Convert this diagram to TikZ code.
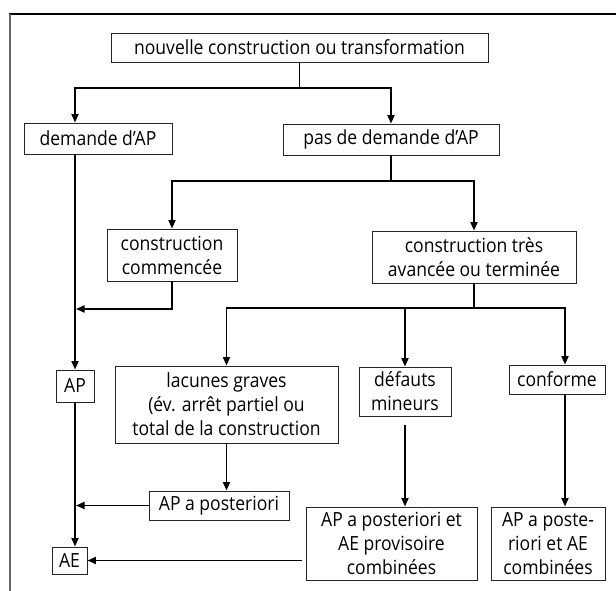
\documentclass[tikz,border=0pt]{standalone}
\usepackage{fontspec}
\setmainfont{Open Sans}[FakeStretch=0.9]
\usetikzlibrary{arrows.meta}

\begin{document}
\begin{tikzpicture}[x=1pt,y=-1pt,
    boite/.style={draw=black!85,line width=0.9pt,inner sep=0pt,align=center,
      font=\fontsize{19.5}{24}\selectfont},
    fleche/.style={line width=1.8pt,-{Triangle[length=8.5pt,width=7pt]}},
    trait/.style={line width=1.8pt}]
    \useasboundingbox (0,0) rectangle (616,591);

    % Cadre
    \draw[line width=1.4pt] (9.3,14) -- (616,14);
    \draw[black!60,line width=1.6pt] (10,14) -- (10,591);

    % Boites
    \node[boite,minimum width=377pt,minimum height=29pt] (haut) at (299.5,47.5)
        {nouvelle construction ou transformation};
    \node[boite,minimum width=148pt,minimum height=31pt] (demande) at (98,138.5)
        {demande d’AP};
    \node[boite,minimum width=216pt,minimum height=31pt] (pasdem) at (391,139.5)
        {pas de demande d’AP};
    \node[boite,minimum width=130pt,minimum height=52pt] (commencee) at (172,255)
        {construction\\commencée};
    \node[boite,minimum width=204pt,minimum height=52pt] (avancee) at (474,257)
        {construction très\\avancée ou terminée};
    \node[boite,minimum width=38pt,minimum height=32pt] (ap) at (75,386) {AP};
    \node[boite,minimum width=223pt,minimum height=77pt] (lacunes) at (226.5,404.5)
        {lacunes graves\\(év. arrêt partiel ou\\total de la construction};
    \node[boite,minimum width=92pt,minimum height=49pt] (defauts) at (405,391.5)
        {défauts\\mineurs};
    \node[boite,minimum width=96pt,minimum height=29pt] (conforme) at (557,379.5)
        {conforme};
    \node[boite,minimum width=140pt,minimum height=29pt] (apap) at (219,505.5)
        {AP a posteriori};
    \node[boite,minimum width=171pt,minimum height=73pt] (apae) at (391.5,543.5)
        {AP a posteriori et\\AE provisoire\\combinées};
    \node[boite,minimum width=114pt,minimum height=73pt] (apposte) at (548,543.5)
        {AP a poste-\\riori et AE\\combinées};
    \node[boite,minimum width=35pt,minimum height=27pt] (ae) at (69.5,560.5) {AE};

    % Premier embranchement
    \coordinate (tronc) at (75,88);
    \draw[trait] (haut.south) -- (haut.south |- tronc);
    \draw[fleche] (haut.south |- tronc) -| (demande.north -| tronc);
    \draw[fleche] (haut.south |- tronc) -| (pasdem.north);
    \draw[fleche] (demande.south -| tronc) -- (ap.north);

    % Pas de demande d'AP
    \coordinate (j2) at (391,181);
    \draw[trait] (pasdem.south) -- (pasdem.south |- j2);
    \draw[fleche] (pasdem.south |- j2) -| (commencee.north);
    \draw[fleche] (pasdem.south |- j2) -| (avancee.north);
    \coordinate (r1) at (76,309);
    \draw[fleche] (commencee.south) |- (r1);

    % Construction tres avancee
    \coordinate (j3) at (474,308);
    \coordinate (droite) at (565,308);
    \draw[trait] (avancee.south) -- (j3);
    \draw[fleche] (j3) -| (lacunes.north);
    \draw[fleche] (j3) -| (defauts.north);
    \draw[fleche] (j3) -| (conforme.north -| droite);

    % Vers les autorisations
    \draw[fleche] (lacunes.south) -- (apap.north -| lacunes.south);
    \draw[fleche] (apap.west) -- ([xshift=1pt]apap.west -| tronc);
    \draw[fleche] (ap.south) -- (ae.north -| ap.south);
    \draw[fleche,shorten <=9pt] (defauts.south) -- (apae.north -| defauts.south);
    \draw[fleche] (conforme.south -| droite) -- (apposte.north -| droite);
    \draw[fleche,shorten <=4pt] (apae.west |- ae.east) -- (ae.east);
\end{tikzpicture}
\end{document}
